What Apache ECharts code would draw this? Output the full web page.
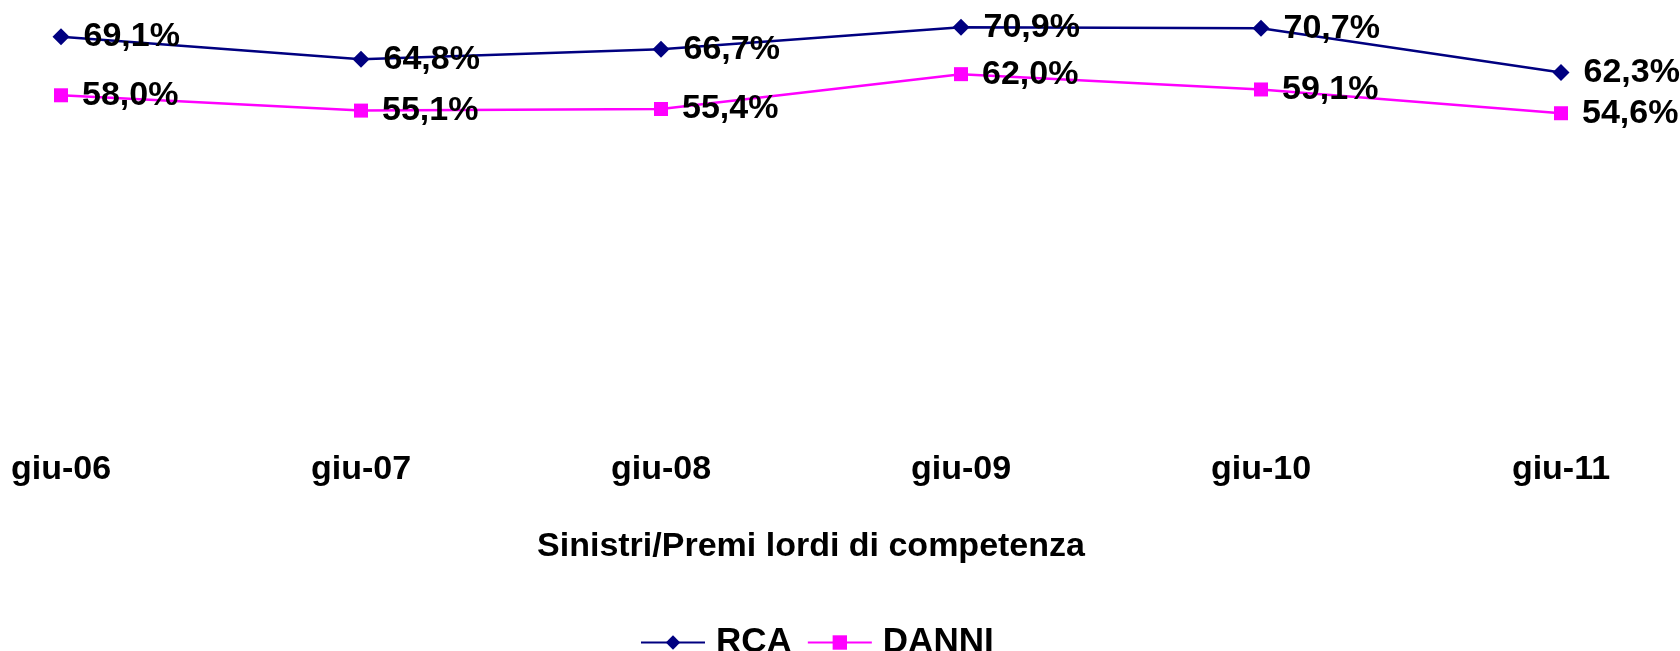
<!DOCTYPE html>
<html>
<head>
<meta charset="utf-8">
<script src="https://cdn.jsdelivr.net/npm/echarts@6/dist/echarts.min.js"></script>
<style>
  html, body { margin: 0; padding: 0; background: #fff; }
  #chart { width: 1680px; height: 651px; }
</style>
</head>
<body>
<div id="chart"></div>
<script>
// dati
const categories = ['giu-06', 'giu-07', 'giu-08', 'giu-09', 'giu-10', 'giu-11']
const rca = [69.1, 64.8, 66.7, 70.9, 70.7, 62.3]
const danni = [58.0, 55.1, 55.4, 62.0, 59.1, 54.6]

const font = "'Liberation Sans', Arial, sans-serif"

function pct(p) {
  return p.value.toFixed(1).replace('.', ',') + '%'
}

const labelStyle = {
  show: true,
  position: 'right',
  distance: 14,
  formatter: pct,
  color: '#000',
  fontFamily: font,
  fontWeight: 'bold',
  fontSize: 34
}

const chart = echarts.init(document.getElementById('chart'))
chart.setOption({
  animation: false,
  backgroundColor: '#fff',
  grid: { left: 61, right: 119, top: 5.5, bottom: 249.4 },
  legend: {
    top: 620,
    left: 635,
    itemWidth: 64,
    itemHeight: 18,
    itemGap: 15,
    textStyle: {
      fontFamily: font,
      fontWeight: 'bold',
      fontSize: 35,
      color: '#000',
      padding: [0, 0, 0, 6]
    },
    data: ['RCA', 'DANNI']
  },
  xAxis: {
    type: 'category',
    data: categories,
    boundaryGap: false,
    axisLine: { show: false },
    axisTick: { show: false },
    splitLine: { show: false },
    axisLabel: {
      margin: 51,
      color: '#000',
      fontFamily: font,
      fontWeight: 'bold',
      fontSize: 34
    },
    name: 'Sinistri/Premi lordi di competenza',
    nameLocation: 'middle',
    nameGap: 128,
    nameTextStyle: {
      color: '#000',
      fontFamily: font,
      fontWeight: 'bold',
      fontSize: 34
    }
  },
  yAxis: {
    type: 'value',
    min: 0,
    max: 75,
    show: false
  },
  series: [
    {
      name: 'RCA',
      type: 'line',
      data: rca,
      symbol: 'diamond',
      symbolSize: 17,
      lineStyle: { color: '#000080', width: 2.5 },
      itemStyle: { color: '#000080' },
      label: labelStyle
    },
    {
      name: 'DANNI',
      type: 'line',
      data: danni,
      symbol: 'rect',
      symbolSize: 14,
      lineStyle: { color: '#FF00FF', width: 2.5 },
      itemStyle: { color: '#FF00FF' },
      label: labelStyle
    }
  ]
})
window.addEventListener('resize', () => {
  chart.resize()
})
</script>
</body>
</html>
